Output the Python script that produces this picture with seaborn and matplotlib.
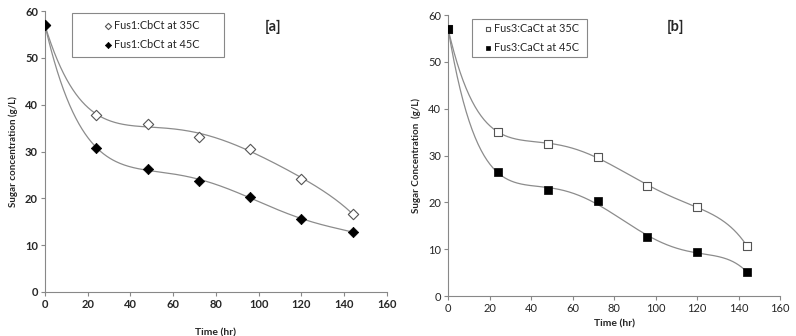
import numpy as np
import pandas as pd
import matplotlib
matplotlib.use('Agg')
import matplotlib.pyplot as plt
import seaborn as sns
from matplotlib.patches import Rectangle

# 数据
time_hr = [0, 24, 48, 72, 96, 120, 144]
a_35c = [57.0, 37.8, 35.8, 33.2, 30.6, 24.2, 16.7]
a_45c = [57.0, 30.8, 26.2, 23.8, 20.3, 15.6, 12.8]
b_35c = [57.0, 35.1, 32.5, 29.7, 23.6, 19.0, 10.7]
b_45c = [57.0, 26.5, 22.7, 20.2, 12.5, 9.4, 5.1]

labels_a = ['Fus1:CbCt at 35C', 'Fus1:CbCt at 45C']
labels_b = ['Fus3:CaCt at 35C', 'Fus3:CaCt at 45C']

sns.set_style('white')
plt.rcParams['font.family'] = ['Lato', 'DejaVu Sans']

fig = plt.figure(figsize=(7.96, 3.36), dpi=100)
ax_a = fig.add_axes([0.0565, 0.131, 0.4295, 0.836])
ax_b = fig.add_axes([0.563, 0.119, 0.417, 0.836])


def trend(x, y, deg=5):
    # 多项式趋势线（类似 Excel）
    coef = np.polyfit(x, y, deg)
    xs = np.linspace(0, 144, 300)
    return pd.DataFrame({'t': xs, 'c': np.polyval(coef, xs)})


def draw(ax, y35, y45, labels, marker, ylabel, tag, box, leg_x, ticks_bold):
    for y in (y35, y45):
        sns.lineplot(data=trend(time_hr, y), x='t', y='c', ax=ax,
                     color='#8c8c8c', linewidth=0.9)
    df = pd.DataFrame({'t': time_hr * 2, 'c': y35 + y45,
                       's': [labels[0]] * 7 + [labels[1]] * 7})
    sns.scatterplot(data=df[df.s == labels[0]], x='t', y='c', ax=ax,
                    marker=marker, s=28, facecolor='white', edgecolor='#555555',
                    linewidth=0.8, label=labels[0], zorder=5)
    sns.scatterplot(data=df[df.s == labels[1]], x='t', y='c', ax=ax,
                    marker=marker, s=28, color='black', edgecolor='black',
                    linewidth=0.5, label=labels[1], zorder=5)
    ax.set_xlim(0, 160)
    ax.set_ylim(0, 60)
    ax.set_xticks(range(0, 161, 20))
    ax.set_yticks(range(0, 61, 10))
    ax.set_xlabel('Time (hr)', fontsize=7.5, fontweight='bold', labelpad=13 if ticks_bold else 4)
    ax.set_ylabel(ylabel, fontsize=7, fontweight='bold', labelpad=5)
    for sp in ['top', 'right']:
        ax.spines[sp].set_visible(False)
    for sp in ['left', 'bottom']:
        ax.spines[sp].set_color('#888888')
        ax.spines[sp].set_linewidth(0.8)
    ax.tick_params(axis='both', direction='out', length=3, width=0.8,
                   color='#888888', labelsize=8, pad=2, left=True, bottom=True)
    if ticks_bold:
        for lb in ax.get_xticklabels() + ax.get_yticklabels():
            lb.set_fontweight('bold')
    ax.text(tag[0], tag[1], tag[2], transform=fig.transFigure, fontsize=10.5,
            fontweight='bold', ha='center', va='center')
    # 图例外框
    ax.add_patch(Rectangle((box[0], box[1]), box[2], box[3], transform=fig.transFigure,
                           facecolor='white', edgecolor='#888888', linewidth=0.8,
                           zorder=10, clip_on=False))
    leg = ax.legend(loc='center left', bbox_to_anchor=(leg_x, box[1] + box[3] / 2),
                    bbox_transform=fig.transFigure, frameon=False, fontsize=7.8,
                    handletextpad=0.15, borderaxespad=0, labelspacing=0.8,
                    handlelength=0.8, borderpad=0, markerscale=0.6)
    leg.set_zorder(11)


draw(ax_a, a_35c, a_45c, labels_a, 'D', 'Sugar concentration (g/L)',
     (273 / 796, 1 - 27 / 336, '[a]'), (72 / 796, 1 - 57 / 336, 152 / 796, 44 / 336), 104 / 796, True)
draw(ax_b, b_35c, b_45c, labels_b, 's', 'Sugar Concentration  (g/L)',
     (676 / 796, 1 - 27 / 336, '[b]'), (472 / 796, 1 - 57 / 336, 115 / 796, 38 / 336), 484 / 796, False)

fig.savefig('out.png', dpi=100)
